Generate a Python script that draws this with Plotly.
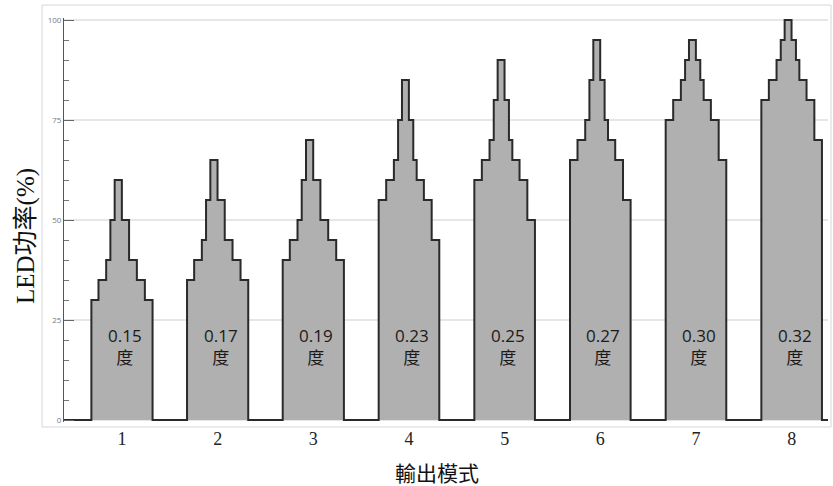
import plotly.graph_objects as go

# ---------------- data ----------------
modes = [1, 2, 3, 4, 5, 6, 7, 8]
tick_labels = ["1", "2", "3", "4", "5", "6", "7", "8"]
angle_labels = ["0.15", "0.17", "0.19", "0.23", "0.25", "0.27", "0.30", "0.32"]

power_mode1 = [30, 35, 40, 50, 60, 50, 40, 35, 30]
power_mode2 = [35, 40, 45, 55, 65, 55, 45, 40, 35]
power_mode3 = [40, 45, 50, 60, 70, 60, 50, 45, 40]
power_mode4 = [55, 60, 65, 75, 85, 75, 65, 60, 55, 45]
power_mode5 = [60, 65, 70, 80, 90, 80, 70, 65, 60, 50]
power_mode6 = [65, 70, 75, 85, 95, 85, 75, 70, 65, 55]
power_mode7 = [75, 80, 85, 90, 95, 90, 85, 80, 75, 65]
power_mode8 = [80, 85, 90, 95, 100, 95, 90, 85, 80, 70]
power_levels = [power_mode1, power_mode2, power_mode3, power_mode4,
                power_mode5, power_mode6, power_mode7, power_mode8]

y_tick_vals = [0, 25, 50, 75, 100]

# ---------------- layout geometry ----------------
PX_PER_CAT = 95.67
STEP_PX = {
    9: [7.1, 7.7, 4.2, 4.3, 7.2, 7.2, 7.8, 8.0, 7.7],
    10: [7.5, 7.7, 4.2, 3.9, 6.9, 4.4, 3.4, 7.2, 7.8, 7.6],
}
X_RANGE = [0.394, 8.38]

xs = [X_RANGE[0]]
ys = [0]
for m, lv in zip(modes, power_levels):
    w = STEP_PX[len(lv)]
    x = m - sum(w) / 2 / PX_PER_CAT
    for level, wi in zip(lv, w):
        xs.append(x)
        ys.append(level)
        x += wi / PX_PER_CAT
    xs.append(x)
    ys.append(0)
xs.append(X_RANGE[1])
ys.append(0)

fig = go.Figure()
fig.add_trace(go.Scatter(
    x=xs, y=ys, mode="lines", line_shape="hv",
    line=dict(color="#2a2a2a", width=2),
    fill="tozeroy", fillcolor="#b0b0b0",
    hoverinfo="skip", showlegend=False,
))

for m, a in zip(modes, angle_labels):
    fig.add_annotation(
        x=m + 0.03, y=18.3, xref="x", yref="y",
        text=f"{a}<br>度", showarrow=False,
        font=dict(family="Open Sans, Noto Sans CJK TC", size=17, color="#1a1a1a"),
        align="center",
    )

fig.add_annotation(
    x=(26 - 64) / 764, y=(422 - 236) / 404, xref="paper", yref="paper",
    text="LED功率(%)", textangle=-90, showarrow=False,
    font=dict(family="Liberation Serif, Noto Sans CJK TC", size=25, color="#111"),
    xanchor="center", yanchor="middle",
)
fig.add_annotation(
    x=(437 - 64) / 764, y=(422 - 472) / 404, xref="paper", yref="paper",
    text="輸出模式", showarrow=False,
    font=dict(family="Noto Sans CJK TC", size=21, color="#111"),
    xanchor="center", yanchor="middle",
)

fig.add_shape(
    type="rect", xref="paper", yref="paper",
    x0=-22 / 764, x1=1 + 3 / 764, y0=-5 / 404, y1=1 + 13 / 404,
    line=dict(color="#d6d6d6", width=1), fillcolor="rgba(0,0,0,0)", layer="below",
)

fig.update_layout(
    width=833, height=486,
    margin=dict(l=64, r=5, t=18, b=64),
    paper_bgcolor="white", plot_bgcolor="white",
    showlegend=False,
    xaxis=dict(
        range=X_RANGE, tickmode="array", tickvals=modes, ticktext=tick_labels,
        showgrid=False, zeroline=False, showline=False, ticks="",
        tickfont=dict(family="Liberation Serif", size=18, color="#222"),
        ticklabelstandoff=4,
    ),
    yaxis=dict(
        range=[-0.5, 100.5], tickmode="array", tickvals=y_tick_vals,
        showgrid=True, gridcolor="#e6e6e6", gridwidth=1.5, zeroline=False,
        showline=True, linecolor="#555", linewidth=1,
        ticks="inside", ticklen=10, tickcolor="#666",
        minor=dict(dtick=5, ticks="inside", ticklen=5, tickcolor="#777", showgrid=False),
        tickfont=dict(family="Open Sans", size=8, color="#777"),
    ),
)

fig.write_html(
    "out.html",
    config={"displayModeBar": False},
    post_script="document.body.style.margin='0';document.body.style.overflow='hidden';",
)
